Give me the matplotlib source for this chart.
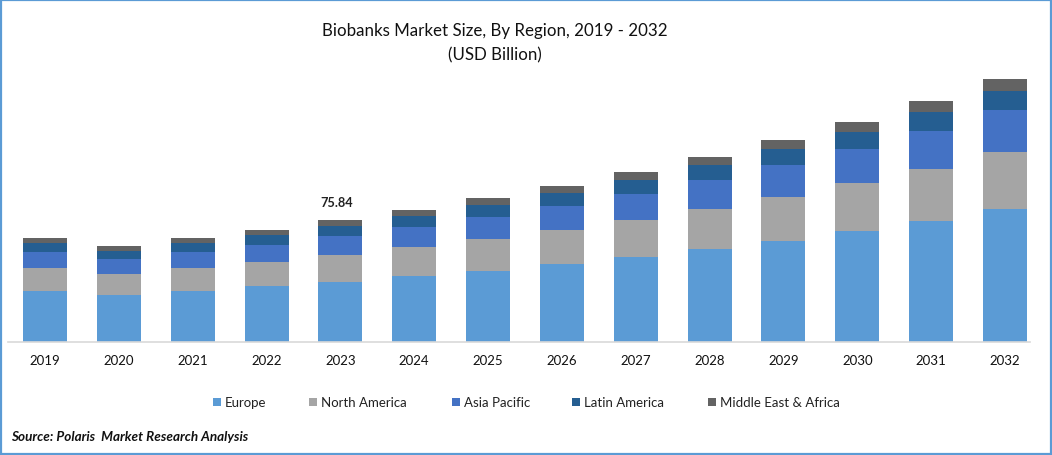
import matplotlib
matplotlib.use("Agg")
import matplotlib.pyplot as plt
from matplotlib.patches import Rectangle
import numpy as np

years = [str(y) for y in range(2019, 2033)]
europe = [31.7, 29.2, 31.7, 34.8, 37.3, 41.0, 44.1, 48.5, 52.8, 57.8, 62.8, 69.0, 75.2, 82.7]
north_america = [14.3, 13.1, 14.3, 14.9, 16.8, 18.0, 19.9, 21.1, 23.0, 24.9, 27.4, 29.8, 32.3, 35.4]
asia_pacific = [9.9, 9.3, 9.9, 10.6, 11.8, 12.4, 13.7, 14.9, 16.2, 18.0, 19.9, 21.1, 23.6, 26.1]
latin_america = [5.6, 5.0, 5.6, 6.2, 6.2, 6.8, 7.5, 8.1, 8.7, 9.3, 9.9, 10.6, 11.8, 11.8]
middle_east_africa = [3.1, 3.1, 3.1, 3.1, 3.7, 3.7, 4.4, 4.4, 5.0, 5.0, 5.6, 6.2, 6.8, 7.5]
series_names = ["Europe", "North America", "Asia Pacific", "Latin America", "Middle East & Africa"]
series_values = [europe, north_america, asia_pacific, latin_america, middle_east_africa]
colors = ["#5B9BD5", "#A5A5A5", "#4472C4", "#255E91", "#636363"]
annotation_year = "2023"
annotation_text = "75.84"

W, H = 1052, 456
plt.rcParams["font.family"] = ["Lato", "DejaVu Sans"]
fig = plt.figure(figsize=(W / 100, H / 100), dpi=100, facecolor="white")
ax = fig.add_axes([8 / W, (H - 343) / H, (1030 - 8) / W, 300 / H])
scale = 75.84 / 122
ax.set_ylim(0, 300 * scale)
step = (1005 - 45) / 13
ax.set_xlim(-(45 - 8) / step, (1030 - 45) / step)

x = np.arange(len(years))
bottom = np.zeros(len(years))
for name, vals, c in zip(series_names, series_values, colors):
    ax.bar(x, vals, bottom=bottom, width=44 / step, color=c, label=name, linewidth=0)
    bottom += np.array(vals)

ax.set_xticks(x)
ax.set_xticklabels(years, fontsize=9.5, color="#111111")
ax.tick_params(axis="x", length=0, pad=8.5)
ax.set_yticks([])
for s in ["top", "left", "right"]:
    ax.spines[s].set_visible(False)
ax.spines["bottom"].set_color("#D9D9D9")
ax.spines["bottom"].set_linewidth(1.2)

i = years.index(annotation_year)
ax.text(i - 4 / step, bottom[i] + 12 * scale, annotation_text, ha="center", va="bottom",
        fontsize=9.2, fontweight="bold", color="#222222")

fig.text(495 / W, 1 - 31 / H, "Biobanks Market Size, By Region, 2019 - 2032", ha="center", va="center",
         fontsize=12.2, color="#111111")
fig.text(495 / W, 1 - 55 / H, "(USD Billion)", ha="center", va="center", fontsize=12.2, color="#111111")

legend_x = [213, 309, 452, 572, 708]
for name, c, lx in zip(series_names, colors, legend_x):
    fig.add_artist(Rectangle((lx / W, 1 - 407 / H), 8 / W, 8 / H, transform=fig.transFigure, color=c, lw=0))
    fig.text((lx + 12) / W, 1 - 403 / H, name, ha="left", va="center", fontsize=9.5, color="#222222")

fig.text(11 / W, 1 - 437 / H, "Source: Polaris  Market Research Analysis", ha="left", va="center",
         fontsize=9.75, fontweight="bold", style="italic", color="#111111")

fig.add_artist(Rectangle((1 / W, 1 / H), (W - 2) / W, (H - 2) / H, transform=fig.transFigure,
                         fill=False, edgecolor="#5B9BD5", linewidth=1.6))
fig.savefig("out.png", dpi=100)
